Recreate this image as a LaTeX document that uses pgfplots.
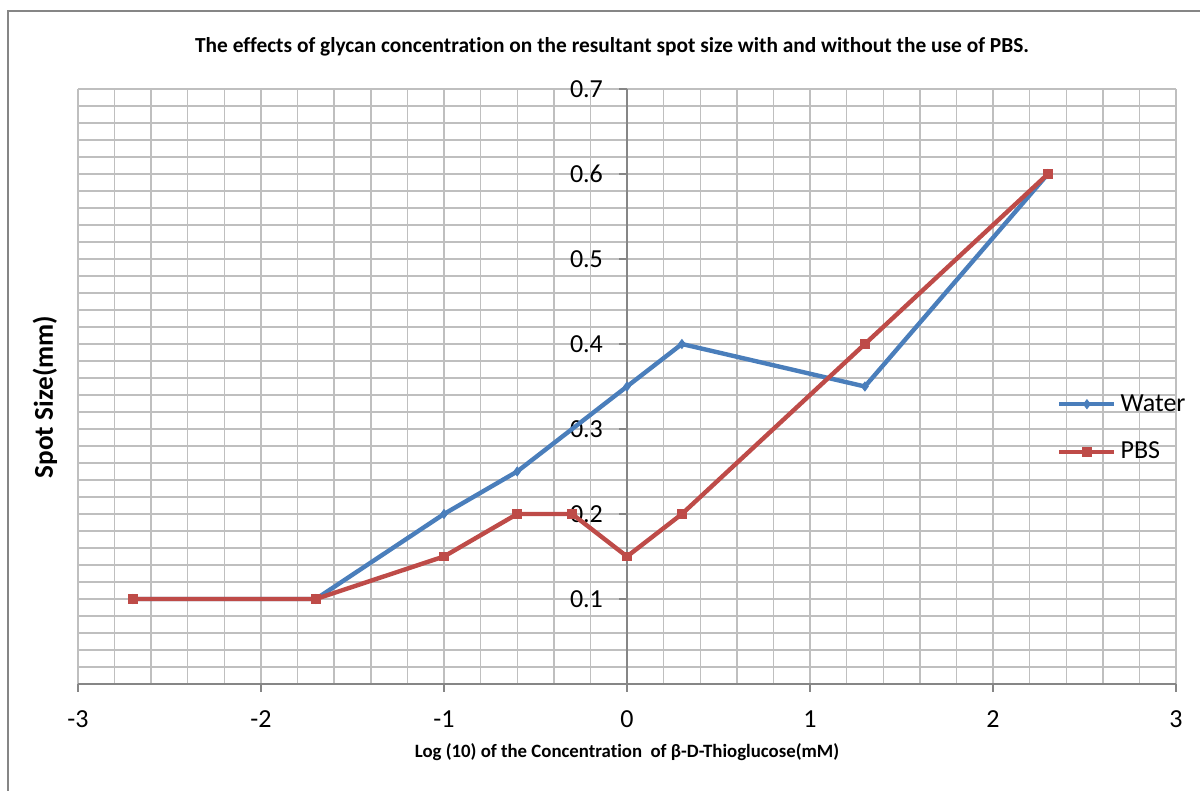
\documentclass[border=0pt]{standalone}
\usepackage{pgfplots}
\pgfplotsset{compat=1.18}
\usepackage{fontspec}
\setmainfont[Ligatures=NoCommon]{Carlito}
\definecolor{waterblue}{HTML}{4A7EBB}
\definecolor{pbsred}{HTML}{BE4B48}
\definecolor{gridgray}{HTML}{BFBFBF}
\definecolor{axisgray}{HTML}{868686}

\begin{document}
\begin{tikzpicture}
% chart area frame
\draw[axisgray, line width=0.8pt] (4pt,0pt) -- (4pt,390pt) -- (600pt,390pt);

\begin{axis}[
  at={(39pt,53.5pt)}, anchor=south west,
  scale only axis, width=549pt, height=297.5pt,
  xmin=-3, xmax=3, ymin=0, ymax=0.7,
  axis x line=bottom, axis y line=center,
  axis line style={-, axisgray, line width=0.8pt},
  xtick={-3,-2,-1,0,1,2,3},
  xticklabels={-3,-2,-1,0,1,2,3},
  ytick={0,0.1,0.2,0.3,0.4,0.5,0.6,0.7},
  yticklabels={0,0.1,0.2,0.3,0.4,0.5,0.6,0.7},
  minor x tick num=4, minor y tick num=4,
  grid=both,
  major grid style={gridgray, line width=0.7pt},
  minor grid style={gridgray, line width=0.7pt},
  tick align=outside,
  major tick length=4pt, minor tick length=0pt,
  tick style={axisgray, line width=0.8pt},
  ticklabel style={font=\fontsize{13}{15}\selectfont},
  xticklabel style={yshift=-6pt},
  yticklabel style={xshift=-4.5pt},
  legend style={at={(0.886,0.43)}, anchor=west, draw=none, fill=none,
    font=\fontsize{13}{15}\selectfont, row sep=10pt},
  legend cell align=left,
  legend image code/.code={
    \draw[#1] (0pt,0pt) -- (27.5pt,0pt);
    \draw[#1, mark repeat=2, mark phase=2] plot coordinates {(0pt,0pt) (13.75pt,0pt) (27.5pt,0pt)};
  },
  clip=false,
]
\addplot[waterblue, line width=2.2pt, mark=diamond*, mark size=2.2pt,
  mark options={solid, fill=waterblue, draw=waterblue, line width=0.5pt}]
  coordinates {(-2.7,0.1) (-1.7,0.1) (-1,0.2) (-0.6,0.25) (0,0.35) (0.3,0.4) (1.3,0.35) (2.3,0.6)};
\addlegendentry{Water}
\addplot[pbsred, line width=2.2pt, mark=square*, mark size=2.2pt,
  mark options={solid, fill=pbsred, draw=pbsred, line width=0.5pt}]
  coordinates {(-2.7,0.1) (-1.7,0.1) (-1,0.15) (-0.6,0.2) (-0.3,0.2) (0,0.15) (0.3,0.2) (1.3,0.4) (2.3,0.6)};
\addlegendentry{PBS}
\end{axis}

\node[font=\bfseries\fontsize{10.7}{12}\selectfont] at (306pt,372pt)
  {The effects of glycan concentration on the resultant spot size with and without the use of PBS.};
\node[font=\bfseries\fontsize{13.6}{15}\selectfont, rotate=90] at (22.5pt,197pt) {Spot Size(mm)};
\node[font=\bfseries\fontsize{9.4}{11}\selectfont] at (313.5pt,19.5pt)
  {Log (10) of the Concentration\ \ of β-D-Thioglucose(mM)};

\pgfresetboundingbox
\path[use as bounding box] (0pt,0pt) rectangle (600pt,395.5pt);
\end{tikzpicture}
\end{document}
